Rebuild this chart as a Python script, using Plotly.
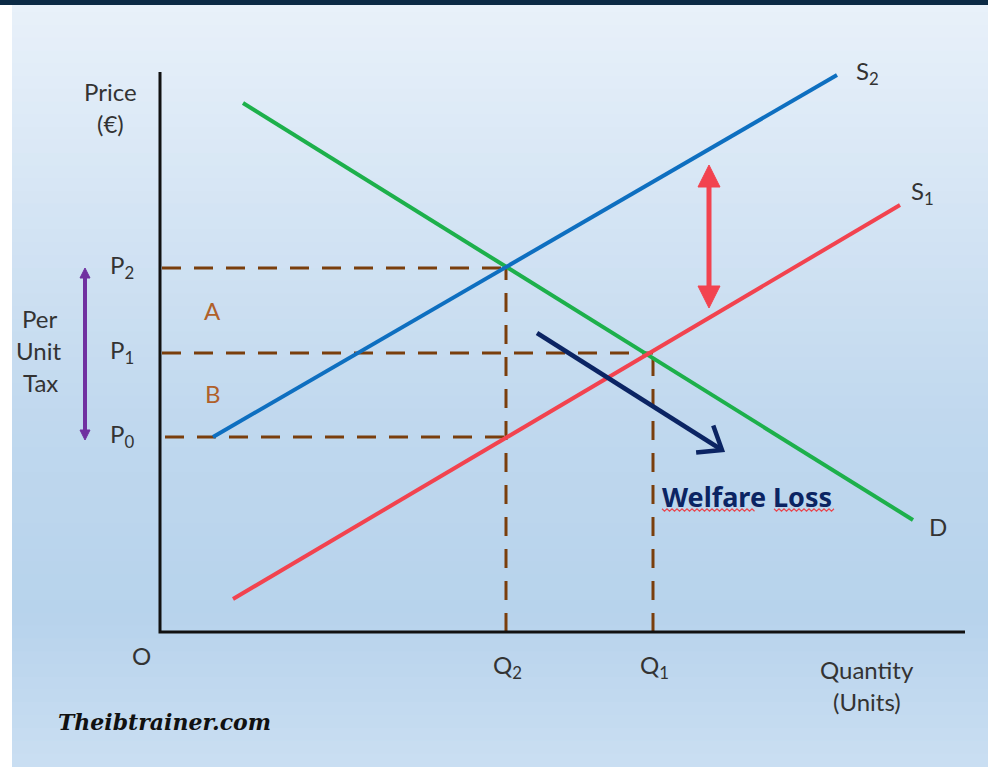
import numpy as np
import plotly.graph_objects as go

# ---- data (economic diagram, arbitrary units) ----
demand_q = [83, 753]
demand_p = [529, 112]
s2_q = [53, 677]
s2_p = [195, 557]
s1_q = [73, 740]
s1_p = [33, 427]

price_names = ["P<sub>0</sub>", "P<sub>1</sub>", "P<sub>2</sub>"]
price_vals = [195, 279, 364]
qty_names = ["Q<sub>2</sub>", "Q<sub>1</sub>"]
qty_vals = [346, 493]

tax_arrow_q = 549
tax_arrow_p = [324, 467]
per_unit_q = -75
per_unit_p = [192, 364]
welfare_arrow_q = [377, 562]
welfare_arrow_p = [299, 182]

W, H = 988, 767
X0, Y0 = 160, 632  # pixel position of origin
xr = [-X0, W - X0]
yr = [Y0 - H, Y0]

FONT = "Lato"
TXT = "#333333"
BROWN = "#7a3e0c"

fig = go.Figure()

# background gradient bands
def lerp(c1, c2, t):
    return tuple(int(round(a + (b - a) * t)) for a, b in zip(c1, c2))

stops = [(0.0, (233, 241, 250)), (0.55, (192, 216, 238)), (0.8, (183, 211, 236)), (1.0, (202, 222, 242))]
shapes = []
nb = 60
for i in range(nb):
    t = (i + 0.5) / nb
    for j in range(len(stops) - 1):
        if stops[j][0] <= t <= stops[j + 1][0]:
            tt = (t - stops[j][0]) / (stops[j + 1][0] - stops[j][0])
            c = lerp(stops[j][1], stops[j + 1][1], tt)
            break
    shapes.append(dict(type="rect", xref="paper", yref="paper", x0=0, x1=1,
                       y0=1 - (i + 1) / nb, y1=1 - i / nb + 0.001,
                       fillcolor="rgb(%d,%d,%d)" % c, line=dict(width=0), layer="below"))
# left white strip and top navy bar
shapes.append(dict(type="rect", xref="paper", yref="paper", x0=0, x1=12 / W, y0=0, y1=1,
                   fillcolor="white", line=dict(width=0), layer="below"))
shapes.append(dict(type="rect", xref="paper", yref="paper", x0=0, x1=1, y0=1 - 5 / H, y1=1,
                   fillcolor="#0b2a45", line=dict(width=0), layer="below"))

# dashed guide lines
dash = "19px,13px"
pmap = dict(zip(["P0", "P1", "P2"], price_vals))
qmap = dict(zip(["Q2", "Q1"], qty_vals))
guides = [
    ([2, qmap["Q2"]], [pmap["P2"]] * 2),
    ([2, qmap["Q1"]], [pmap["P1"]] * 2),
    ([5, qmap["Q2"]], [pmap["P0"]] * 2),
    ([qmap["Q2"]] * 2, [0, pmap["P2"]]),
    ([qmap["Q1"]] * 2, [0, pmap["P1"]]),
]
for gx, gy in guides:
    fig.add_trace(go.Scatter(x=gx, y=gy, mode="lines",
                             line=dict(color=BROWN, width=3, dash=dash), hoverinfo="skip"))

# curves
fig.add_trace(go.Scatter(x=demand_q, y=demand_p, mode="lines", line=dict(color="#1db04b", width=4)))
fig.add_trace(go.Scatter(x=s2_q, y=s2_p, mode="lines", line=dict(color="#0e6fc0", width=4)))
fig.add_trace(go.Scatter(x=s1_q, y=s1_p, mode="lines", line=dict(color="#f2434f", width=4)))

# axes
fig.add_trace(go.Scatter(x=[0, 0, 805], y=[560, 0, 0], mode="lines",
                         line=dict(color="#111111", width=3)))

# arrow helpers
def filled_head(tip, base_dir, length, half_w, color):
    tip = np.array(tip, float)
    d = np.array(base_dir, float)
    d = d / np.linalg.norm(d)
    n = np.array([-d[1], d[0]])
    b = tip - d * length
    pts = np.array([tip, b + n * half_w, b - n * half_w, tip])
    fig.add_trace(go.Scatter(x=pts[:, 0], y=pts[:, 1], mode="lines", fill="toself",
                             fillcolor=color, line=dict(color=color, width=1)))

def double_arrow(q, p, color, width, hl, hw):
    lo, hi = p
    fig.add_trace(go.Scatter(x=[q, q], y=[lo + hl * 0.6, hi - hl * 0.6], mode="lines",
                             line=dict(color=color, width=width)))
    filled_head((q, hi), (0, 1), hl, hw, color)
    filled_head((q, lo), (0, -1), hl, hw, color)

double_arrow(tax_arrow_q, tax_arrow_p, "#f2434f", 5, 22, 11)
double_arrow(per_unit_q, per_unit_p, "#7030a0", 4, 10, 5)

# welfare-loss arrow with open chevron head
wq, wp = np.array(welfare_arrow_q, float), np.array(welfare_arrow_p, float)
NAVY = "#0b2463"
fig.add_trace(go.Scatter(x=wq, y=wp, mode="lines", line=dict(color=NAVY, width=4.5)))
d = np.array([wq[1] - wq[0], wp[1] - wp[0]])
d = d / np.linalg.norm(d)
tip = np.array([wq[1], wp[1]])
ang = np.deg2rad(38)
rot = lambda v, a: np.array([v[0] * np.cos(a) - v[1] * np.sin(a), v[0] * np.sin(a) + v[1] * np.cos(a)])
l1 = tip - rot(d, ang) * 26
l2 = tip - rot(d, -ang) * 26
fig.add_trace(go.Scatter(x=[l1[0], tip[0], l2[0]], y=[l1[1], tip[1], l2[1]], mode="lines",
                         line=dict(color=NAVY, width=4.5)))

# annotations
ann = []
def txt(x, y, s, size=24, color=TXT, **kw):
    ann.append(dict(x=x, y=y, text=s, showarrow=False, xref="x", yref="y",
                    font=dict(family=kw.pop("family", FONT), size=size, color=color), **kw))

txt(-50, 541, "Price")
txt(-50, 509, "(€)")
for name, val in zip(price_names, price_vals):
    txt(-38, val + 2, name, xanchor="center")
for name, val in zip(qty_names, qty_vals):
    txt(val + 1, -34, name)
txt(-19, -23, "O")
txt(707, -37, "Quantity")
txt(707, -69, "(Units)")
txt(-121, 314, "Per")
txt(-122, 282, "Unit")
txt(-120, 250, "Tax")
txt(52, 322, "A", color="#b0602a")
txt(53, 239, "B", color="#b0602a")
txt(s2_q[1] + 30, s2_p[1] + 3, "S<sub>2</sub>")
txt(s1_q[1] + 22, s1_p[1] + 13, "S<sub>1</sub>")
txt(demand_q[1] + 25, demand_p[1] - 6, "D")
txt(587, 136, "<b>Welfare Loss</b>", size=27, color="#0b2463", family="Noto Sans")
txt(4, -90, "<b><i>Theibtrainer.com</i></b>", size=22, color="#111111", family="DejaVu Serif")

# red squiggle underline (spell-check style)
for a, b in [(502, 596), (614, 675)]:
    xs = np.arange(a, b + 0.1, 2.5)
    ys = 122 + np.where(np.arange(len(xs)) % 2 == 0, 1.2, -1.2)
    path = "M " + " L ".join("%.1f,%.1f" % (xx, yy) for xx, yy in zip(xs, ys))
    shapes.append(dict(type="path", xref="x", yref="y", path=path,
                       line=dict(color="#e8474f", width=1.2)))

fig.update_layout(
    width=W, height=H, margin=dict(l=0, r=0, t=0, b=0),
    paper_bgcolor="white", plot_bgcolor="rgba(0,0,0,0)",
    showlegend=False, shapes=shapes, annotations=ann,
    xaxis=dict(range=xr, visible=False, fixedrange=True),
    yaxis=dict(range=yr, visible=False, fixedrange=True),
)
fig.write_html("out.html", config={"displayModeBar": False},
               post_script="document.body.style.margin='0';document.body.style.overflow='hidden';")
